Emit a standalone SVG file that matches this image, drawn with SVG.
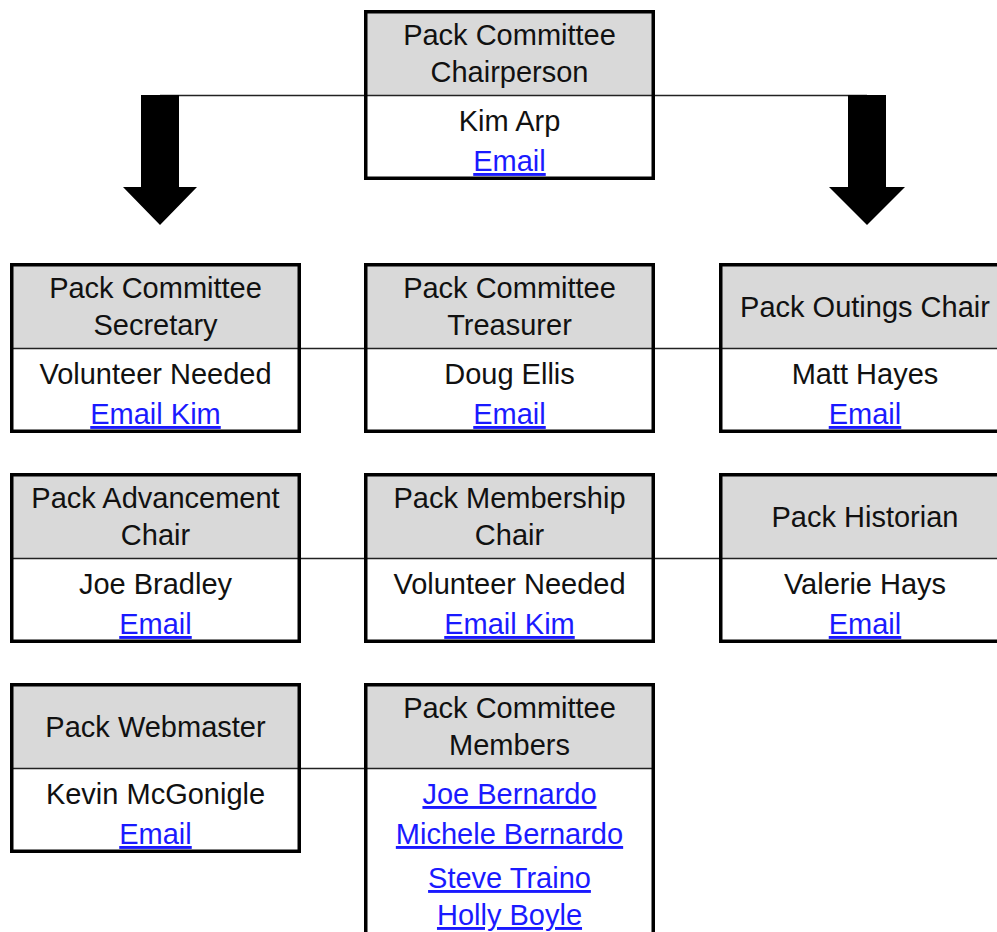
<svg xmlns="http://www.w3.org/2000/svg" width="997" height="932" viewBox="0 0 997 932">
<style>
.hd{fill:#d9d9d9;stroke:none}
.bx{fill:none;stroke:#000;stroke-width:3.5}
.dv{stroke:#222;stroke-width:1.5}
.cn{stroke:#222;stroke-width:1.5;fill:none}
.ar{fill:#000}
text{font-family:"Liberation Sans",Arial,sans-serif;font-size:29px;text-anchor:middle;fill:#111}
text.ln{fill:#1a1aff;text-decoration:underline}
</style>
<rect width="997" height="932" fill="#fff"/>
<g id="connectors">
<line class="cn" x1="160" y1="95.5" x2="867" y2="95.5"/>
<polygon class="ar" points="141,95 179,95 179,187 197,187 160,225 123,187 141,187"/>
<polygon class="ar" points="848,95 886,95 886,187 905,187 867,225 829,187 848,187"/>
<line class="cn" x1="300" y1="348.5" x2="720" y2="348.5"/>
<line class="cn" x1="300" y1="558.5" x2="720" y2="558.5"/>
<line class="cn" x1="300" y1="768.5" x2="366" y2="768.5"/>
</g>
<g id="chair">
<rect class="hd" x="365.75" y="11.75" width="287.5" height="84"/>
<rect fill="#fff" x="365.75" y="96" width="287.5" height="82"/>
<line class="dv" x1="364" y1="95.5" x2="655" y2="95.5"/>
<rect class="bx" x="365.75" y="11.75" width="287.5" height="166.5"/>
<text x="509.5" y="45">Pack Committee</text>
<text x="509.5" y="82">Chairperson</text>
<text x="509.5" y="131">Kim Arp</text>
<text class="ln" x="509.5" y="171">Email</text>
</g>
<g id="secretary">
<rect class="hd" x="11.75" y="264.75" width="287.5" height="84"/>
<rect fill="#fff" x="11.75" y="349" width="287.5" height="82"/>
<line class="dv" x1="10" y1="348.5" x2="301" y2="348.5"/>
<rect class="bx" x="11.75" y="264.75" width="287.5" height="166.5"/>
<text x="155.5" y="298">Pack Committee</text>
<text x="155.5" y="335">Secretary</text>
<text x="155.5" y="384">Volunteer Needed</text>
<text class="ln" x="155.5" y="424">Email Kim</text>
</g>
<g id="treasurer">
<rect class="hd" x="365.75" y="264.75" width="287.5" height="84"/>
<rect fill="#fff" x="365.75" y="349" width="287.5" height="82"/>
<line class="dv" x1="364" y1="348.5" x2="655" y2="348.5"/>
<rect class="bx" x="365.75" y="264.75" width="287.5" height="166.5"/>
<text x="509.5" y="298">Pack Committee</text>
<text x="509.5" y="335">Treasurer</text>
<text x="509.5" y="384">Doug Ellis</text>
<text class="ln" x="509.5" y="424">Email</text>
</g>
<g id="outings">
<rect class="hd" x="720.75" y="264.75" width="287.5" height="84"/>
<rect fill="#fff" x="720.75" y="349" width="287.5" height="82"/>
<line class="dv" x1="719" y1="348.5" x2="1010" y2="348.5"/>
<rect class="bx" x="720.75" y="264.75" width="287.5" height="166.5"/>
<text x="865" y="317">Pack Outings Chair</text>
<text x="865" y="384">Matt Hayes</text>
<text class="ln" x="865" y="424">Email</text>
</g>
<g id="advancement">
<rect class="hd" x="11.75" y="474.75" width="287.5" height="84"/>
<rect fill="#fff" x="11.75" y="559" width="287.5" height="82"/>
<line class="dv" x1="10" y1="558.5" x2="301" y2="558.5"/>
<rect class="bx" x="11.75" y="474.75" width="287.5" height="166.5"/>
<text x="155.5" y="508">Pack Advancement</text>
<text x="155.5" y="545">Chair</text>
<text x="155.5" y="594">Joe Bradley</text>
<text class="ln" x="155.5" y="634">Email</text>
</g>
<g id="membership">
<rect class="hd" x="365.75" y="474.75" width="287.5" height="84"/>
<rect fill="#fff" x="365.75" y="559" width="287.5" height="82"/>
<line class="dv" x1="364" y1="558.5" x2="655" y2="558.5"/>
<rect class="bx" x="365.75" y="474.75" width="287.5" height="166.5"/>
<text x="509.5" y="508">Pack Membership</text>
<text x="509.5" y="545">Chair</text>
<text x="509.5" y="594">Volunteer Needed</text>
<text class="ln" x="509.5" y="634">Email Kim</text>
</g>
<g id="historian">
<rect class="hd" x="720.75" y="474.75" width="287.5" height="84"/>
<rect fill="#fff" x="720.75" y="559" width="287.5" height="82"/>
<line class="dv" x1="719" y1="558.5" x2="1010" y2="558.5"/>
<rect class="bx" x="720.75" y="474.75" width="287.5" height="166.5"/>
<text x="865" y="527">Pack Historian</text>
<text x="865" y="594">Valerie Hays</text>
<text class="ln" x="865" y="634">Email</text>
</g>
<g id="webmaster">
<rect class="hd" x="11.75" y="684.75" width="287.5" height="84"/>
<rect fill="#fff" x="11.75" y="769" width="287.5" height="82"/>
<line class="dv" x1="10" y1="768.5" x2="301" y2="768.5"/>
<rect class="bx" x="11.75" y="684.75" width="287.5" height="166.5"/>
<text x="155.5" y="737">Pack Webmaster</text>
<text x="155.5" y="804">Kevin McGonigle</text>
<text class="ln" x="155.5" y="844">Email</text>
</g>
<g id="members">
<rect class="hd" x="365.75" y="684.75" width="287.5" height="84"/>
<rect fill="#fff" x="365.75" y="769" width="287.5" height="200"/>
<line class="dv" x1="364" y1="768.5" x2="655" y2="768.5"/>
<rect class="bx" x="365.75" y="684.75" width="287.5" height="290"/>
<text x="509.5" y="718">Pack Committee</text>
<text x="509.5" y="755">Members</text>
<text class="ln" x="509.5" y="804">Joe Bernardo</text>
<text class="ln" x="509.5" y="844">Michele Bernardo</text>
<text class="ln" x="509.5" y="888">Steve Traino</text>
<text class="ln" x="509.5" y="925">Holly Boyle</text>
</g>
</svg>
